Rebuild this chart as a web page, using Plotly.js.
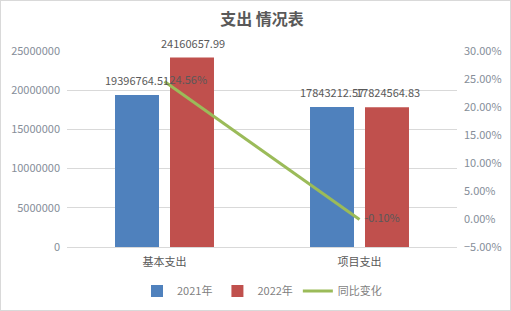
<!DOCTYPE html>
<html><head><meta charset="utf-8">
<script src="https://cdn.plot.ly/plotly-3.0.1.min.js"></script>
<style>html,body{margin:0;padding:0;background:#fff;}#c{width:511px;height:311px;}#b{position:absolute;left:0;top:0;width:509px;height:309px;border:1px solid #d9d9d9;pointer-events:none;}</style>
</head><body><div id="c"></div><div id="b"></div>
<script>
var categories = ['基本支出', '项目支出'];
var values2021 = [19396764.51, 17843212.57];
var values2022 = [24160657.99, 17824564.83];
var changeRate = [0.2456, -0.0010];
var seriesNames = ['2021年', '2022年', '同比变化'];

var font = 'Noto Sans CJK SC, sans-serif';
var fmt = function(v){ return v.toFixed(2); };
var pct = function(v){ return (v*100).toFixed(2) + '%'; };

var traces = [
  {type:'bar', name:seriesNames[0], x:categories, y:values2021, marker:{color:'#4f81bd'}, offsetgroup:'a', hoverinfo:'none'},
  {type:'bar', name:seriesNames[1], x:categories, y:values2022, marker:{color:'#c0504d'}, offsetgroup:'b', hoverinfo:'none'},
  {type:'scatter', mode:'lines+text', name:seriesNames[2], x:categories, y:changeRate, yaxis:'y2',
   line:{color:'#9bbb59', width:3}, text:changeRate.map(function(v){return '  ' + pct(v);}), textposition:'middle right',
   textfont:{color:'#595959', size:11, family:font}, hoverinfo:'none'}
];

var annotations = [];
categories.forEach(function(c, i){
  annotations.push({x:c, y:values2021[i], xref:'x', yref:'y', text:fmt(values2021[i]), showarrow:false, xshift:-28, yshift:15, font:{color:'#595959', size:11, family:font}});
  annotations.push({x:c, y:values2022[i], xref:'x', yref:'y', text:fmt(values2022[i]), showarrow:false, xshift:28, yshift:15, font:{color:'#595959', size:11, family:font}});
});

var layout = {
  width:511, height:311,
  margin:{l:67, r:54, t:51, b:64},
  paper_bgcolor:'#fff', plot_bgcolor:'#fff',
  font:{family:font, color:'#808080', size:11},
  title:{text:'<b>支出 情况表</b>', x:0.5, xanchor:'center', xref:'paper', y:1-19/311, yref:'container', yanchor:'middle', font:{color:'#595959', size:16, family:font}},
  barmode:'group', bargap:0.436, bargroupgap:0.2,
  showlegend:true,
  legend:{orientation:'h', x:0.5, xanchor:'center', xref:'paper', y:1-291/311, yref:'container', yanchor:'middle', font:{color:'#7f7f7f', size:11}, traceorder:'normal', itemwidth:30},
  xaxis:{type:'category', showline:true, linecolor:'#d9d9d9', ticks:'', ticklabelstandoff:5, tickfont:{color:'#595959', size:11}, fixedrange:true},
  yaxis:{range:[0, 25000000], dtick:5000000, tickformat:'d', showgrid:true, gridcolor:'#d9d9d9', zeroline:false, ticks:'', ticklabelstandoff:6, tickfont:{color:'#868e99', size:11}},
  yaxis2:{overlaying:'y', side:'right', range:[-0.05, 0.30], dtick:0.05, tickformat:'.2%', showgrid:false, zeroline:false, ticks:'', ticklabelstandoff:6, tickfont:{color:'#868e99', size:11}},
  annotations:annotations
};
Plotly.newPlot('c', traces, layout, {staticPlot:true});
</script></body></html>
